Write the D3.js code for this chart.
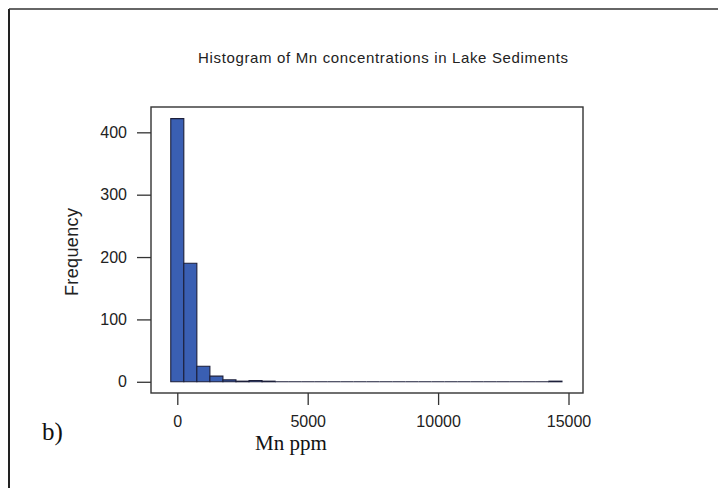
<!DOCTYPE html>
<html>
<head>
<meta charset="utf-8">
<script src="https://cdn.jsdelivr.net/npm/d3@7"></script>
<style>
  html, body { margin: 0; padding: 0; background: #fff; }
  svg { display: block; }
</style>
</head>
<body>
<div id="chart"></div>
<script>
// bin midpoints (Mn ppm), bins are 500 wide
const midpoints = [0, 500, 1000, 1500, 2000, 2500, 3000, 3500, 4000, 4500,
                   5000, 5500, 6000, 6500, 7000, 7500, 8000, 8500, 9000, 9500,
                   10000, 10500, 11000, 11500, 12000, 12500, 13000, 13500, 14000, 14500];
const counts = [422, 190, 25, 9, 3, 1, 2, 1, 0, 0,
                0, 0, 0, 0, 0, 0, 0, 0, 0, 0,
                0, 0, 0, 0, 0, 0, 0, 0, 0, 1];
const binWidth = 500;
const xTicks = [0, 5000, 10000, 15000];
const yTicks = [0, 100, 200, 300, 400];

(() => {
    const width = 718, height = 488;
    const box = { left: 151, top: 107, right: 583, bottom: 393 };

    const svg = d3.select("#chart").append("svg")
        .attr("width", width)
        .attr("height", height);

    // outer frame of the scanned figure
    svg.append("line").attr("x1", 9).attr("x2", 9).attr("y1", 9).attr("y2", height)
        .attr("stroke", "#222").attr("stroke-width", 2);
    svg.append("line").attr("x1", 9).attr("x2", width).attr("y1", 9).attr("y2", 9)
        .attr("stroke", "#333").attr("stroke-width", 1.6);

    const x = d3.scaleLinear().domain([-1008, 15556]).range([box.left, box.right]);
    const y = d3.scaleLinear().domain([-18, 440.6]).range([box.bottom, box.top]);

    const bins = midpoints.map((m, i) => ({ x0: m - binWidth / 2, x1: m + binWidth / 2, n: counts[i] }));

    // bars as paths so empty bins still leave their outline on the baseline
    svg.append("g").selectAll("path")
        .data(bins)
        .enter().append("path")
        .attr("d", d => {
            const p = d3.path();
            p.moveTo(x(d.x0), y(0));
            p.lineTo(x(d.x0), y(d.n));
            p.lineTo(x(d.x1), y(d.n));
            p.lineTo(x(d.x1), y(0));
            p.closePath();
            return p.toString();
        })
        .attr("fill", "#3a5fb3")
        .attr("stroke", "#1c1f3a")
        .attr("stroke-width", 1.1);

    // plot box
    svg.append("rect")
        .attr("x", box.left).attr("y", box.top)
        .attr("width", box.right - box.left).attr("height", box.bottom - box.top)
        .attr("fill", "none").attr("stroke", "#333").attr("stroke-width", 1.4);

    const yAxis = svg.append("g")
        .attr("transform", `translate(${box.left},0)`)
        .call(d3.axisLeft(y).tickValues(yTicks).tickSize(14).tickPadding(10));
    yAxis.select(".domain").remove();

    const xAxis = svg.append("g")
        .attr("transform", `translate(0,${box.bottom})`)
        .call(d3.axisBottom(x).tickValues(xTicks).tickSize(12).tickPadding(11).tickFormat(d3.format("d")));
    xAxis.select(".domain").remove();

    svg.selectAll(".tick line").attr("stroke", "#333").attr("stroke-width", 1.3);
    svg.selectAll(".tick text")
        .style("font-family", "'Liberation Sans', Arial, sans-serif")
        .style("font-size", "16px")
        .attr("fill", "#222");

    svg.append("text")
        .attr("x", 383).attr("y", 63)
        .attr("text-anchor", "middle")
        .attr("textLength", 370)
        .style("font-family", "'Liberation Sans', Arial, sans-serif")
        .style("font-size", "15px")
        .attr("fill", "#222")
        .text("Histogram of Mn concentrations in Lake Sediments");

    svg.append("text")
        .attr("transform", "translate(78,252) rotate(-90)")
        .attr("text-anchor", "middle")
        .attr("textLength", 88)
        .style("font-family", "'Liberation Sans', Arial, sans-serif")
        .style("font-size", "18px")
        .attr("fill", "#222")
        .text("Frequency");

    svg.append("text")
        .attr("x", 291).attr("y", 450)
        .attr("text-anchor", "middle")
        .style("font-family", "'Liberation Serif', 'Times New Roman', serif")
        .style("font-size", "21px")
        .attr("fill", "#111")
        .text("Mn ppm");

    svg.append("text")
        .attr("x", 42).attr("y", 440)
        .style("font-family", "'Liberation Serif', 'Times New Roman', serif")
        .style("font-size", "25px")
        .attr("fill", "#111")
        .text("b)");
})();
</script>
</body>
</html>
